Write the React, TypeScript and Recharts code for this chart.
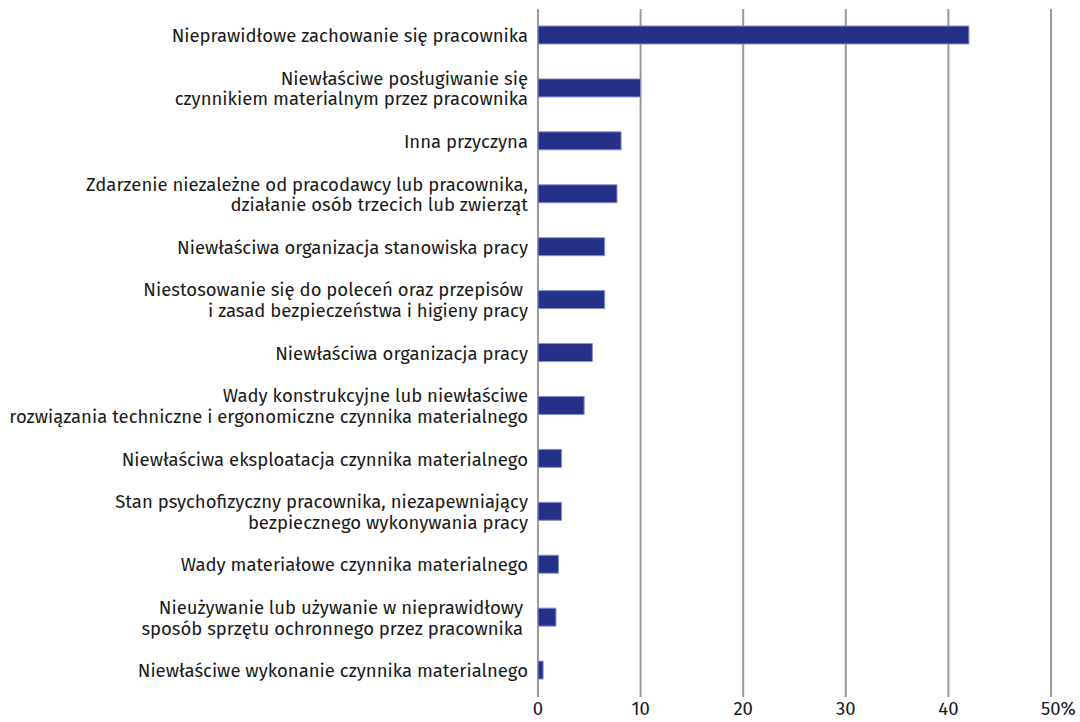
import React from 'react';
import { BarChart, Bar, XAxis, YAxis, CartesianGrid } from 'recharts';

const categories: string[][] = [
  ['Nieprawidłowe zachowanie się pracownika'],
  ['Niewłaściwe posługiwanie się', 'czynnikiem materialnym przez pracownika'],
  ['Inna przyczyna'],
  ['Zdarzenie niezależne od pracodawcy lub pracownika,', 'działanie osób trzecich lub zwierząt'],
  ['Niewłaściwa organizacja stanowiska pracy'],
  ['Niestosowanie się do poleceń oraz przepisów ', 'i zasad bezpieczeństwa i higieny pracy'],
  ['Niewłaściwa organizacja pracy'],
  ['Wady konstrukcyjne lub niewłaściwe', 'rozwiązania techniczne i ergonomiczne czynnika materialnego'],
  ['Niewłaściwa eksploatacja czynnika materialnego'],
  ['Stan psychofizyczny pracownika, niezapewniający', 'bezpiecznego wykonywania pracy'],
  ['Wady materiałowe czynnika materialnego'],
  ['Nieużywanie lub używanie w nieprawidłowy ', 'sposób sprzętu ochronnego przez pracownika '],
  ['Niewłaściwe wykonanie czynnika materialnego'],
];

const values: number[] = [42.0, 10.0, 8.1, 7.7, 6.5, 6.5, 5.3, 4.5, 2.3, 2.3, 2.0, 1.75, 0.5];

const xTicks: number[] = [0, 10, 20, 30, 40, 50];

const data = categories.map((lines, i) => ({ name: String(i), value: values[i] }));

const FONT = '"Fira Sans", "Noto Sans", sans-serif';
const TEXT = '#1a1a1a';
const FS = 18.5;

const YTick = (props: any) => {
  const { x, y, payload } = props;
  const lines = categories[Number(payload.value)] || [];
  const lh = 20.5;
  const start = -((lines.length - 1) * lh) / 2;
  const tx = x - 2;
  return (
    <text
      x={tx}
      y={y}
      textAnchor="end"
      fill={TEXT}
      fontSize={FS}
      fontFamily={FONT}
      style={{ whiteSpace: 'pre' }}
    >
      {lines.map((l, i) => (
        <tspan key={i} x={tx} y={y + start + i * lh} dy="0.36em">
          {l}
        </tspan>
      ))}
    </text>
  );
};

const XTick = (props: any) => {
  const { x, y, payload } = props;
  const v = payload.value;
  const isLast = v === xTicks[xTicks.length - 1];
  return (
    <text
      x={isLast ? x - 10 : x}
      y={y + 3}
      dy="0.36em"
      textAnchor={isLast ? 'start' : 'middle'}
      fill={TEXT}
      fontSize={FS}
      fontFamily={FONT}
    >
      {isLast ? `${v}%` : `${v}`}
    </text>
  );
};

export default function App() {
  return (
    <div style={{ position: 'absolute', left: 0, top: 0, width: 1080, height: 722, background: '#fff' }}>
      <BarChart
        width={1080}
        height={722}
        data={data}
        layout="vertical"
        margin={{ top: 9, right: 29, left: 0, bottom: 0 }}
        barCategoryGap={0}
      >
        <CartesianGrid horizontal={false} vertical stroke="#9a9a9a" strokeWidth={2} />
        <XAxis
          type="number"
          domain={[0, 50]}
          ticks={xTicks}
          axisLine={false}
          tickLine={false}
          tick={<XTick />}
          interval={0}
          height={25}
        />
        <YAxis
          type="category"
          dataKey="name"
          width={538}
          axisLine={false}
          tickLine={false}
          tick={<YTick />}
          interval={0}
        />
        <Bar
          dataKey="value"
          fill="#253189"
          stroke="#8a91cc"
          strokeWidth={1}
          barSize={18}
          isAnimationActive={false}
        />
      </BarChart>
    </div>
  );
}
